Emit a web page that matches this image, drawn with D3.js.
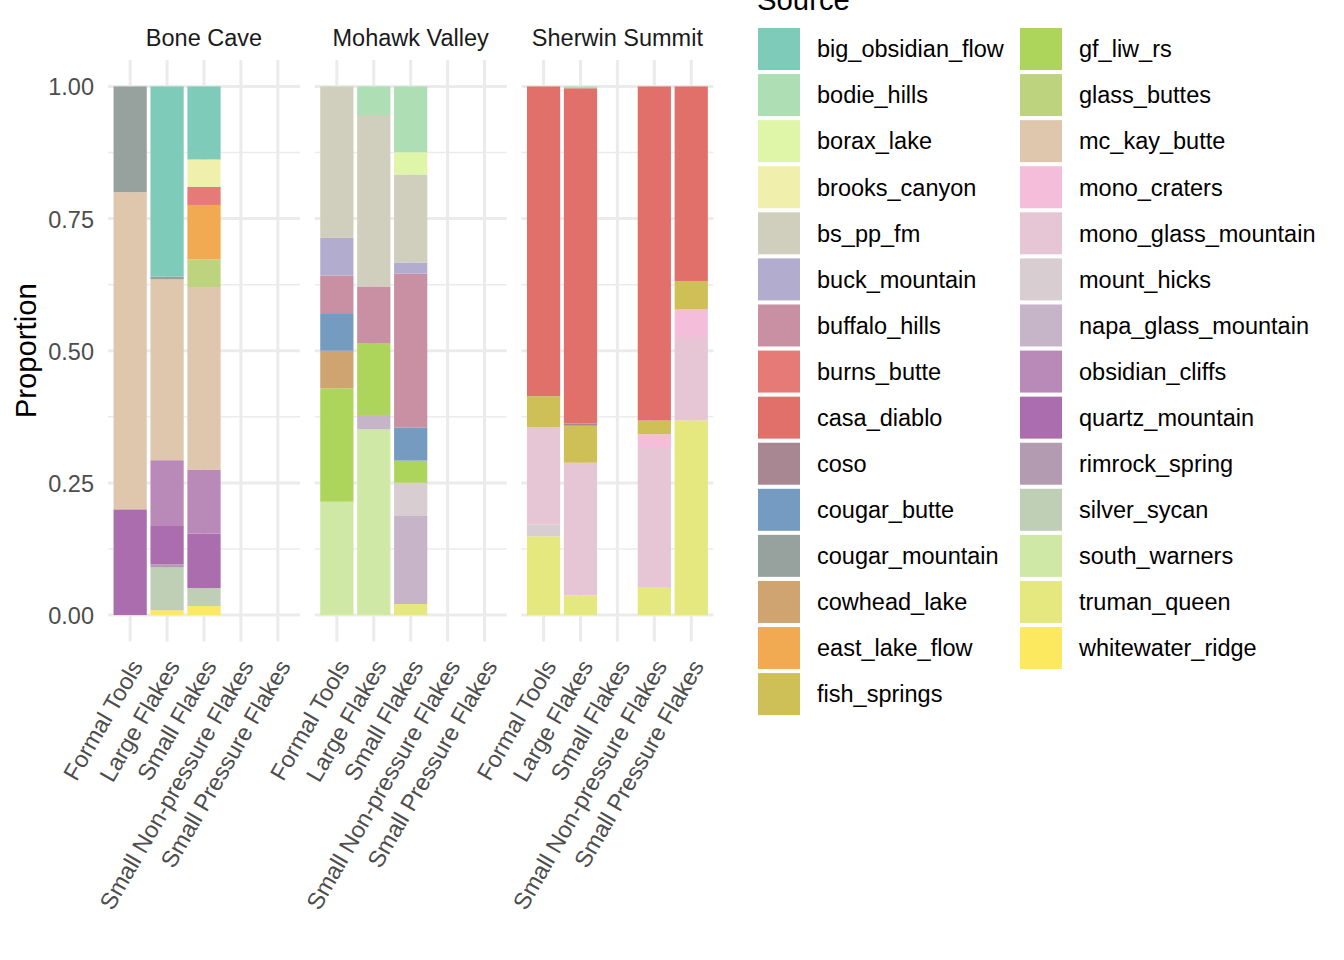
<!DOCTYPE html>
<html>
<head>
<meta charset="utf-8">
<script src="https://cdn.jsdelivr.net/npm/d3@7"></script>
<style>
  body { margin: 0; background: #fff; }
  text { font-family: "Liberation Sans", Arial, Helvetica, sans-serif; }
</style>
</head>
<body>
<script>
// facets and x categories
const sites = ["Bone Cave", "Mohawk Valley", "Sherwin Summit"];
const artifactTypes = ["Formal Tools", "Large Flakes", "Small Flakes",
  "Small Non-pressure Flakes", "Small Pressure Flakes"];

// obsidian sources, in legend order (first one sits on top of the stack)
const sources = ["big_obsidian_flow", "bodie_hills", "borax_lake", "brooks_canyon",
  "bs_pp_fm", "buck_mountain", "buffalo_hills", "burns_butte", "casa_diablo", "coso",
  "cougar_butte", "cougar_mountain", "cowhead_lake", "east_lake_flow", "fish_springs",
  "gf_liw_rs", "glass_buttes", "mc_kay_butte", "mono_craters", "mono_glass_mountain",
  "mount_hicks", "napa_glass_mountain", "obsidian_cliffs", "quartz_mountain",
  "rimrock_spring", "silver_sycan", "south_warners", "truman_queen", "whitewater_ridge"];
const sourceColors = ["#7ecbba", "#aedfb4", "#dff5a8", "#f0f0ac",
  "#d0cfbe", "#b2adce", "#c890a2", "#e67a76", "#e1706b", "#a88692",
  "#769bc0", "#97a29e", "#cfa470", "#f1aa52", "#cebf57",
  "#aed55b", "#bdd37e", "#dfc7ae", "#f4bdd9", "#e6c5d5",
  "#d8ced1", "#c6b5c9", "#b98ab8", "#ac6dae",
  "#b39bb2", "#bfcfb5", "#cfe8a5", "#e4e87f", "#fde95f"];

// proportions per bar
const boneCave = [
  {type: "Formal Tools", quartz_mountain: 0.2, mc_kay_butte: 0.6, cougar_mountain: 0.2},
  {type: "Large Flakes", whitewater_ridge: 0.009, silver_sycan: 0.081, rimrock_spring: 0.006,
    quartz_mountain: 0.074, obsidian_cliffs: 0.123, mc_kay_butte: 0.342,
    cougar_mountain: 0.0055, big_obsidian_flow: 0.3595},
  {type: "Small Flakes", whitewater_ridge: 0.017, silver_sycan: 0.034, quartz_mountain: 0.103,
    obsidian_cliffs: 0.121, mc_kay_butte: 0.345, glass_buttes: 0.052, east_lake_flow: 0.103,
    burns_butte: 0.034, brooks_canyon: 0.052, big_obsidian_flow: 0.138},
  {type: "Small Non-pressure Flakes"},
  {type: "Small Pressure Flakes"}
];
const mohawkValley = [
  {type: "Formal Tools", south_warners: 0.214, gf_liw_rs: 0.214, cowhead_lake: 0.071,
    cougar_butte: 0.071, buffalo_hills: 0.071, buck_mountain: 0.071, bs_pp_fm: 0.286},
  {type: "Large Flakes", south_warners: 0.351, napa_glass_mountain: 0.027, gf_liw_rs: 0.135,
    buffalo_hills: 0.108, bs_pp_fm: 0.324, bodie_hills: 0.054},
  {type: "Small Flakes", truman_queen: 0.021, napa_glass_mountain: 0.167, mount_hicks: 0.063,
    gf_liw_rs: 0.042, cougar_butte: 0.063, buffalo_hills: 0.292, buck_mountain: 0.021,
    bs_pp_fm: 0.167, borax_lake: 0.042, bodie_hills: 0.125},
  {type: "Small Non-pressure Flakes"},
  {type: "Small Pressure Flakes"}
];
const sherwinSummit = [
  {type: "Formal Tools", truman_queen: 0.149, mount_hicks: 0.022, mono_glass_mountain: 0.184,
    fish_springs: 0.059, casa_diablo: 0.586},
  {type: "Large Flakes", truman_queen: 0.037, mono_glass_mountain: 0.251, fish_springs: 0.070,
    coso: 0.004, casa_diablo: 0.634, bodie_hills: 0.0034},
  {type: "Small Flakes"},
  {type: "Small Non-pressure Flakes", truman_queen: 0.053, mono_glass_mountain: 0.263,
    mono_craters: 0.026, fish_springs: 0.026, casa_diablo: 0.632},
  {type: "Small Pressure Flakes", truman_queen: 0.368, mono_glass_mountain: 0.158,
    mono_craters: 0.053, fish_springs: 0.053, casa_diablo: 0.368}
];
const siteData = [boneCave, mohawkValley, sherwinSummit];

const yTicks = [0, 0.25, 0.5, 0.75, 1];
const yMinor = [0.125, 0.375, 0.625, 0.875];

const W = 1344, H = 960;
const panelLeft = 108, panelW = 192, panelGap = 14.7;
const panelTop = 60, panelBottom = 641.5;
const gridCol = "#ebebeb";

const svg = d3.select("body").append("svg").attr("width", W).attr("height", H);

const y = d3.scaleLinear().domain([-0.05, 1.05]).range([panelBottom, panelTop]);
const color = d3.scaleOrdinal().domain(sources).range(sourceColors);

// bottom of the stack is the last source
const stack = d3.stack()
  .keys(sources.slice().reverse())
  .value((d, k) => d[k] || 0)
  .offset(d3.stackOffsetExpand);

sites.forEach((site, i) => {
  const x0 = panelLeft + i * (panelW + panelGap);
  const x = d3.scalePoint().domain(artifactTypes).range([x0, x0 + panelW]).padding(0.6);
  const bw = x.step() * 0.9;
  const g = svg.append("g");

  // grid
  g.selectAll(".minor").data(yMinor).join("line")
    .attr("x1", x0).attr("x2", x0 + panelW)
    .attr("y1", d => y(d)).attr("y2", d => y(d))
    .attr("stroke", gridCol).attr("stroke-width", 1.5);
  g.selectAll(".major").data(yTicks).join("line")
    .attr("x1", x0).attr("x2", x0 + panelW)
    .attr("y1", d => y(d)).attr("y2", d => y(d))
    .attr("stroke", gridCol).attr("stroke-width", 3);
  g.selectAll(".vgrid").data(artifactTypes).join("line")
    .attr("x1", d => x(d)).attr("x2", d => x(d))
    .attr("y1", panelTop).attr("y2", panelBottom)
    .attr("stroke", gridCol).attr("stroke-width", 3);

  // bars
  const series = stack(siteData[i]);
  g.selectAll(".layer").data(series).join("g")
    .attr("fill", s => color(s.key))
    .selectAll("rect")
    .data(s => s.filter(d => d[1] - d[0] > 0))
    .join("rect")
    .attr("x", d => x(d.data.type) - bw / 2)
    .attr("width", bw)
    .attr("y", d => y(d[1]))
    .attr("height", d => y(d[0]) - y(d[1]));

  // strip label
  svg.append("text")
    .attr("x", x0 + panelW / 2).attr("y", 46)
    .attr("text-anchor", "middle")
    .attr("font-size", 23.5).attr("fill", "#1a1a1a")
    .text(site);

  // x labels
  svg.append("g").selectAll("text").data(artifactTypes).join("text")
    .attr("transform", d => `translate(${x(d) + 13.5},666) rotate(-60)`)
    .attr("text-anchor", "end")
    .attr("font-size", 23.5).attr("fill", "#4d4d4d")
    .text(d => d);
});

// y axis labels
svg.append("g").selectAll("text").data(yTicks).join("text")
  .attr("x", 94).attr("y", d => y(d) + 9)
  .attr("text-anchor", "end")
  .attr("font-size", 23.5).attr("fill", "#4d4d4d")
  .text(d3.format(".2f"));

svg.append("text")
  .attr("transform", `translate(36,${(panelTop + panelBottom) / 2}) rotate(-90)`)
  .attr("text-anchor", "middle")
  .attr("font-size", 29.3).attr("fill", "#000")
  .text("Proportion");

// legend
const legend = svg.append("g");
legend.append("text")
  .attr("x", 757).attr("y", 10)
  .attr("font-size", 29.3).attr("fill", "#000")
  .text("Source");

const perCol = 15, rowH = 46.08;
const item = legend.selectAll(".item").data(sources).join("g")
  .attr("transform", (d, k) => {
    const col = Math.floor(k / perCol), row = k % perCol;
    return `translate(${758 + col * 262},${28 + row * rowH})`;
  });
item.append("rect")
  .attr("width", 42).attr("height", 42)
  .attr("fill", d => color(d));
item.append("text")
  .attr("x", 59).attr("y", 21 + 8.3)
  .attr("font-size", 23.5).attr("fill", "#000")
  .text(d => d);
</script>
</body>
</html>
